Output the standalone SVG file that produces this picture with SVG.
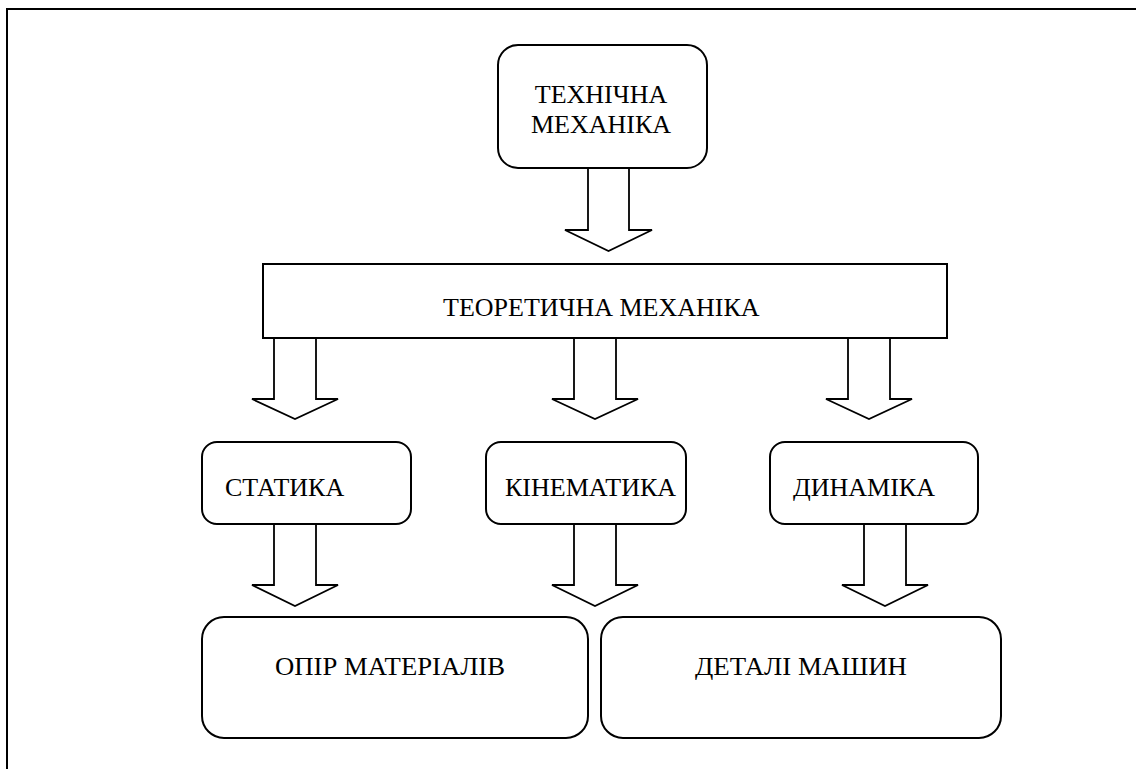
<svg xmlns="http://www.w3.org/2000/svg" width="1136" height="769" viewBox="0 0 1136 769">
<style>
.box{fill:#fff;stroke:#000;stroke-width:2}
.arr{fill:#fff;stroke:#000;stroke-width:1.8;stroke-linejoin:miter}
text{font-family:'Liberation Serif','Times New Roman',serif;font-size:26px;fill:#000}
</style>
<rect x="0" y="0" width="1136" height="769" fill="#fff"/>
<rect x="7" y="9" width="1140" height="780" fill="none" stroke="#000" stroke-width="2"/>
<g id="connectors">
<polygon class="arr" points="588,168 629,168 629,230 652,230 608.5,251 565,230 588,230"/>
<polygon class="arr" points="274,338 316,338 316,399 338,399 295,419 252,399 274,399"/>
<polygon class="arr" points="574,338 616,338 616,399 638,399 595,419 552,399 574,399"/>
<polygon class="arr" points="848,338 890,338 890,399 912,399 869,419 826,399 848,399"/>
<polygon class="arr" points="274,524 316,524 316,585 338,585 295,606 252,585 274,585"/>
<polygon class="arr" points="574,524 616,524 616,585 638,585 595,606 552,585 574,585"/>
<polygon class="arr" points="864,524 906,524 906,585 928,585 885,606 842,585 864,585"/>
</g>
<g id="tech">
<rect class="box" x="498" y="45" width="209" height="123" rx="20"/>
<text x="601" y="103" text-anchor="middle">ТЕХНІЧНА</text>
<text x="601" y="133" text-anchor="middle">МЕХАНІКА</text>
</g>
<g id="theor">
<rect class="box" x="263" y="264" width="684" height="74"/>
<text x="443" y="316">ТЕОРЕТИЧНА МЕХАНІКА</text>
</g>
<g id="statics">
<rect class="box" x="202" y="442" width="209" height="82" rx="15"/>
<text x="225" y="496">СТАТИКА</text>
</g>
<g id="kinematics">
<rect class="box" x="486" y="442" width="200" height="82" rx="15"/>
<text x="505" y="496">КІНЕМАТИКА</text>
</g>
<g id="dynamics">
<rect class="box" x="770" y="442" width="208" height="82" rx="15"/>
<text x="793" y="496">ДИНАМІКА</text>
</g>
<g id="strength">
<rect class="box" x="202" y="617" width="386" height="121" rx="22"/>
<text x="275" y="675" textLength="230" lengthAdjust="spacingAndGlyphs">ОПІР МАТЕРІАЛІВ</text>
</g>
<g id="machines">
<rect class="box" x="601" y="617" width="400" height="121" rx="22"/>
<text x="695" y="675" textLength="212" lengthAdjust="spacingAndGlyphs">ДЕТАЛІ МАШИН</text>
</g>
</svg>
